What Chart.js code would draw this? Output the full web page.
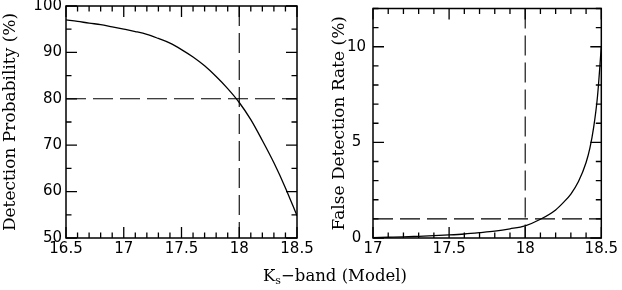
<!DOCTYPE html>
<html>
<head>
<meta charset="utf-8">
<script src="https://cdn.jsdelivr.net/npm/chart.js@4"></script>
<style>
  body { margin: 0; background: #fff; width: 622px; height: 290px; overflow: hidden; position: relative; }
  .box { position: absolute; top: -6px; height: 296px; }
  #boxL { left: 0; width: 330px; }
  #boxR { left: 300px; width: 322px; }
  #xtitle { position: absolute; top: 266px; left: 0; width: 670px; text-align: center;
            font: 16.5px "DejaVu Serif"; color: #000; }
  #xtitle sub { font-size: 11px; vertical-align: -3px; }
</style>
</head>
<body>
<div class="box" id="boxL"><canvas id="detChart"></canvas></div>
<div class="box" id="boxR"><canvas id="falseChart"></canvas></div>
<div id="xtitle">K<sub>s</sub>&minus;band (Model)</div>
<script>
// curva de probabilidade de detecção (painel esquerdo)
const magDet = [16.5, 16.6, 16.7, 16.8, 16.9, 17.0, 17.1, 17.2, 17.3, 17.4, 17.5,
                17.6, 17.7, 17.8, 17.9, 18.0, 18.1, 18.2, 18.3, 18.4, 18.5];
const probDet = [97.0, 96.7, 96.3, 96.0, 95.5, 95.0, 94.5, 93.9, 93.0, 92.0, 90.6,
                 89.0, 87.1, 84.8, 82.2, 79.2, 75.5, 71.0, 66.2, 60.8, 54.8];

// taxa de falsas detecções (painel direito)
const magFalse = [17.0, 17.1, 17.2, 17.3, 17.4, 17.5, 17.6, 17.7, 17.8, 17.9, 18.0,
                  18.1, 18.2, 18.25, 18.3, 18.35, 18.4, 18.425, 18.45, 18.475, 18.5];
const rateFalse = [0.02, 0.04, 0.06, 0.09, 0.12, 0.16, 0.21, 0.28, 0.36, 0.48, 0.64,
                   0.98, 1.47, 1.85, 2.3, 2.95, 3.95, 4.7, 5.8, 7.4, 10.0];

// rótulos dos eixos
const xLabelsDet = [16.5, 17, 17.5, 18, 18.5];
const yLabelsDet = [50, 60, 70, 80, 90, 100];
const xLabelsFalse = [17, 17.5, 18, 18.5];
const yLabelsFalse = [0, 5, 10];

// linhas de corte tracejadas
const cutMag = 18.0;
const cutProb = 80;
const cutRate = 1.0;

const tickFont = { family: "DejaVu Sans", size: 15, lineHeight: 1 };
const titleFont = { family: "DejaVu Serif", size: 17, lineHeight: 1.2 };

// moldura + ticks para dentro nos quatro lados
const frameTicks = {
  id: 'frameTicks',
  afterDatasetsDraw(chart, args, o) {
    const { ctx, chartArea: a, scales: { x, y } } = chart;
    ctx.save();
    ctx.strokeStyle = '#000';
    ctx.lineWidth = 1.3;
    const step = (min, max, d) => {
      const v = [];
      for (let i = 0; min + i * d <= max + 1e-9; i++) v.push(+(min + i * d).toFixed(4));
      return v;
    };
    const isMajor = (v, d) => Math.abs(v / d - Math.round(v / d)) < 1e-6;
    ctx.beginPath();
    step(x.min, x.max, o.xMinor).forEach(v => {
      const px = x.getPixelForValue(v);
      const len = isMajor(v, o.xMajor) ? 11 : 5.5;
      ctx.moveTo(px, a.bottom); ctx.lineTo(px, a.bottom - len);
      ctx.moveTo(px, a.top); ctx.lineTo(px, a.top + len);
    });
    step(y.min, y.max, o.yMinor).forEach(v => {
      const py = y.getPixelForValue(v);
      const len = isMajor(v, o.yMajor) ? 11 : 5.5;
      ctx.moveTo(a.left, py); ctx.lineTo(a.left + len, py);
      ctx.moveTo(a.right, py); ctx.lineTo(a.right - len, py);
    });
    ctx.stroke();
    ctx.lineWidth = 1.5;
    ctx.strokeRect(a.left, a.top, a.right - a.left, a.bottom - a.top);
    ctx.restore();
  }
};

function curve(xs, ys) {
  return {
    data: xs.map((v, i) => ({ x: v, y: ys[i] })),
    borderColor: '#000', borderWidth: 1.3, pointRadius: 0,
    cubicInterpolationMode: 'monotone'
  };
}
function dashed(pts) {
  return {
    data: pts, borderColor: '#000', borderWidth: 1.1, pointRadius: 0,
    borderDash: [20, 7]
  };
}

function makeChart(id, cfg) {
  return new Chart(document.getElementById(id), {
    type: 'line',
    data: { datasets: cfg.datasets },
    options: {
      responsive: true, maintainAspectRatio: false, animation: false,
      layout: { padding: cfg.padding },
      plugins: { legend: { display: false }, tooltip: { enabled: false },
                 frameTicks: cfg.ticks },
      scales: {
        x: {
          type: 'linear', min: cfg.xMin, max: cfg.xMax,
          grid: { display: false, drawTicks: false }, border: { display: false },
          afterBuildTicks: s => { s.ticks = cfg.xLabels.map(v => ({ value: v })); },
          ticks: { font: tickFont, color: '#000', padding: 4, maxRotation: 0, autoSkip: false,
                   callback: v => String(v) },
          afterFit: s => { s.height = 52; }
        },
        y: {
          min: cfg.yMin, max: cfg.yMax,
          grid: { display: false, drawTicks: false }, border: { display: false },
          afterBuildTicks: s => { s.ticks = cfg.yLabels.map(v => ({ value: v })); },
          ticks: { font: tickFont, color: '#000', padding: cfg.yPad, crossAlign: cfg.cross,
                   autoSkip: false, callback: v => String(v) },
          title: { display: true, text: cfg.yTitle, font: titleFont, color: '#000',
                   padding: { top: cfg.titlePad, bottom: 0 } },
          afterFit: s => { s.width = cfg.yWidth; }
        }
      }
    },
    plugins: [frameTicks]
  });
}

makeChart('detChart', {
  datasets: [
    curve(magDet, probDet),
    dashed([{ x: cutMag, y: 100 }, { x: cutMag, y: 50 }]),
    dashed([{ x: 16.5, y: cutProb }, { x: 18.5, y: cutProb }])
  ],
  xMin: 16.5, xMax: 18.5, yMin: 50, yMax: 100,
  xLabels: xLabelsDet, yLabels: yLabelsDet,
  ticks: { xMajor: 0.5, xMinor: 0.1, yMajor: 10, yMinor: 5 },
  padding: { top: 12, left: 0, right: 33, bottom: 0 },
  yTitle: 'Detection Probability (%)', titlePad: 0, yWidth: 66, yPad: 4, cross: 'near'
});

makeChart('falseChart', {
  datasets: [
    curve(magFalse, rateFalse),
    dashed([{ x: cutMag, y: 12 }, { x: cutMag, y: 0 }]),
    dashed([{ x: 17, y: cutRate }, { x: 18.5, y: cutRate }])
  ],
  xMin: 17, xMax: 18.5, yMin: 0, yMax: 12,
  xLabels: xLabelsFalse, yLabels: yLabelsFalse,
  ticks: { xMajor: 0.5, xMinor: 0.1, yMajor: 5, yMinor: 1 },
  padding: { top: 12, left: 29, right: 17, bottom: 0 },
  yTitle: 'False Detection Rate (%)', titlePad: 0, yWidth: 44, yPad: 7, cross: 'center'
});
</script>
</body>
</html>
